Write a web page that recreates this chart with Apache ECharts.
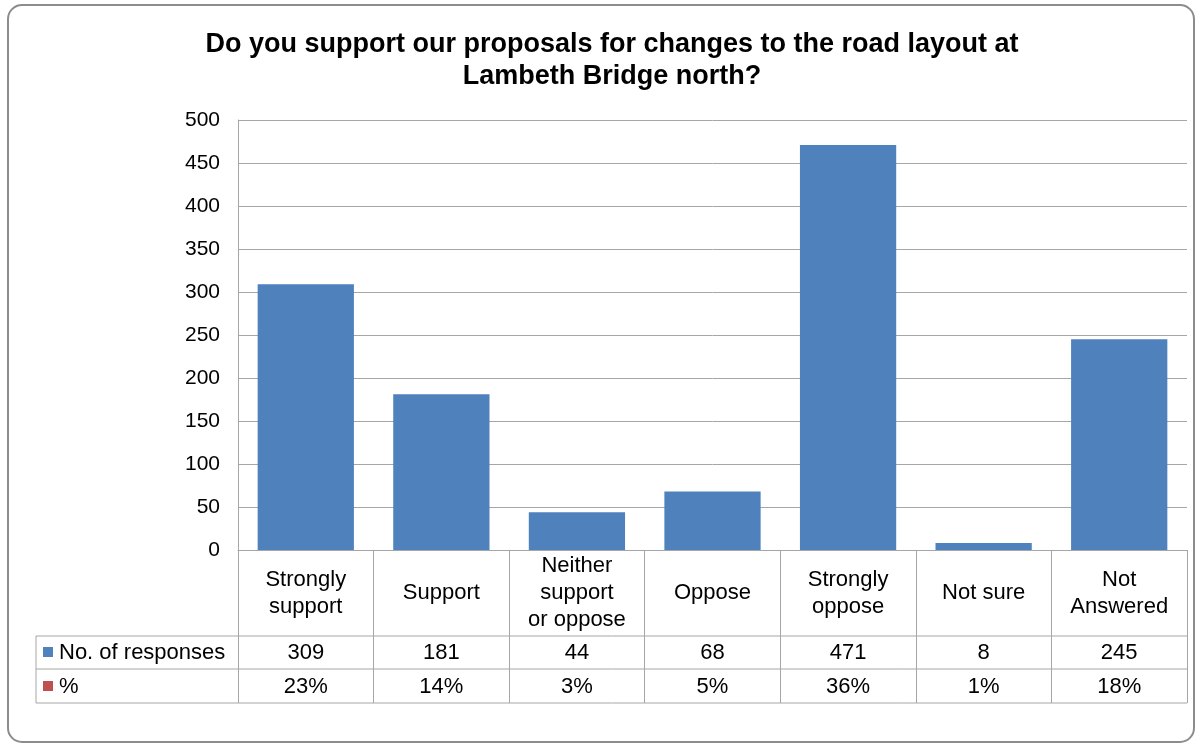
<!DOCTYPE html>
<html>
<head>
<meta charset="utf-8">
<script src="https://cdn.jsdelivr.net/npm/echarts@6/dist/echarts.min.js"></script>
<style>
  html, body { margin: 0; padding: 0; background: #ffffff; }
  #chart { width: 1197px; height: 745px; }
</style>
</head>
<body>
<div id="chart"></div>
<script>
// Survey answers: categories, counts and share of responses
const categories = ['Strongly\nsupport', 'Support', 'Neither\nsupport\nor oppose', 'Oppose', 'Strongly\noppose', 'Not sure', 'Not\nAnswered'];
const responses = [309, 181, 44, 68, 471, 8, 245];
const percents = ['23%', '14%', '3%', '5%', '36%', '1%', '18%'];
const seriesNames = ['No. of responses', '%'];
const yTicks = { min: 0, max: 500, interval: 50 };

const FONT = '"Liberation Sans", Arial, sans-serif';
const GRID = { left: 238, right: 10, top: 120, bottom: 195 };
const W = 1197, H = 745;
const plotRight = W - GRID.right;
const axisY = H - GRID.bottom;           // zero line
const rowLines = [636, 669, 703];        // data-table row separators
const tableLeft = 36;
const lineColor = '#a6a6a6';
const blue = '#4f81bd', red = '#c0504d';

const chart = echarts.init(document.getElementById('chart'), null, { renderer: 'canvas' });

const graphics = [
  // rounded chart frame
  { type: 'rect', shape: { x: 8, y: 5, width: 1186, height: 737, r: 14 },
    style: { fill: 'none', stroke: '#8c8c8c', lineWidth: 2 }, z: 100 },
  // left edge of the legend column
  { type: 'line', shape: { x1: tableLeft, y1: rowLines[0], x2: tableLeft, y2: rowLines[2] },
    style: { stroke: lineColor, lineWidth: 1 }, z: 50 }
];
rowLines.forEach(y => graphics.push({
  type: 'line', shape: { x1: tableLeft, y1: y, x2: plotRight, y2: y },
  style: { stroke: lineColor, lineWidth: 1 }, z: 50
}));
// legend keys in the data table
[[blue, seriesNames[0], 652], [red, seriesNames[1], 686]].forEach(([c, name, cy]) => {
  graphics.push({ type: 'rect', shape: { x: 43, y: cy - 5, width: 10, height: 10 },
    style: { fill: c }, z: 50 });
  graphics.push({ type: 'text', x: 59, y: cy + 1,
    style: { text: name, font: '22px ' + FONT, fill: '#000', verticalAlign: 'middle', align: 'left' }, z: 50 });
});

function rowAxis(values, margin) {
  return {
    type: 'category', data: categories, position: 'bottom', gridIndex: 0,
    axisLine: { show: false }, axisTick: { show: false }, splitLine: { show: false },
    axisLabel: {
      interval: 0, margin: margin, verticalAlign: 'middle',
      fontFamily: FONT, fontSize: 22, color: '#000',
      formatter: (v, i) => String(values[i])
    }
  };
}

chart.setOption({
  animation: false,
  backgroundColor: '#ffffff',
  title: {
    text: 'Do you support our proposals for changes to the road layout at\nLambeth Bridge north?',
    left: 607, top: 24, textAlign: 'center',
    textStyle: { fontFamily: FONT, fontSize: 27, fontWeight: 'bold', color: '#000', lineHeight: 32 }
  },
  grid: GRID,
  xAxis: [
    {
      type: 'category', data: categories,
      axisLine: { show: true, lineStyle: { color: lineColor, width: 1 } },
      axisTick: { show: true, length: rowLines[2] - axisY, lineStyle: { color: lineColor, width: 1 } },
      axisLabel: {
        interval: 0, margin: 43, verticalAlign: 'middle',
        fontFamily: FONT, fontSize: 22, lineHeight: 27, color: '#000', align: 'center'
      },
      splitLine: { show: false }
    },
    rowAxis(responses, 103),
    rowAxis(percents, 137)
  ],
  yAxis: {
    type: 'value', min: yTicks.min, max: yTicks.max, interval: yTicks.interval,
    axisLine: { show: true, lineStyle: { color: lineColor, width: 1 } },
    axisTick: { show: false },
    axisLabel: { margin: 18, fontFamily: FONT, fontSize: 21, color: '#000' },
    splitLine: { show: true, lineStyle: { color: lineColor, width: 1 } }
  },
  series: [{
    name: seriesNames[0], type: 'bar', data: responses,
    barWidth: '71%', itemStyle: { color: blue }, z: 2
  }],
  graphic: graphics
});
</script>
</body>
</html>
